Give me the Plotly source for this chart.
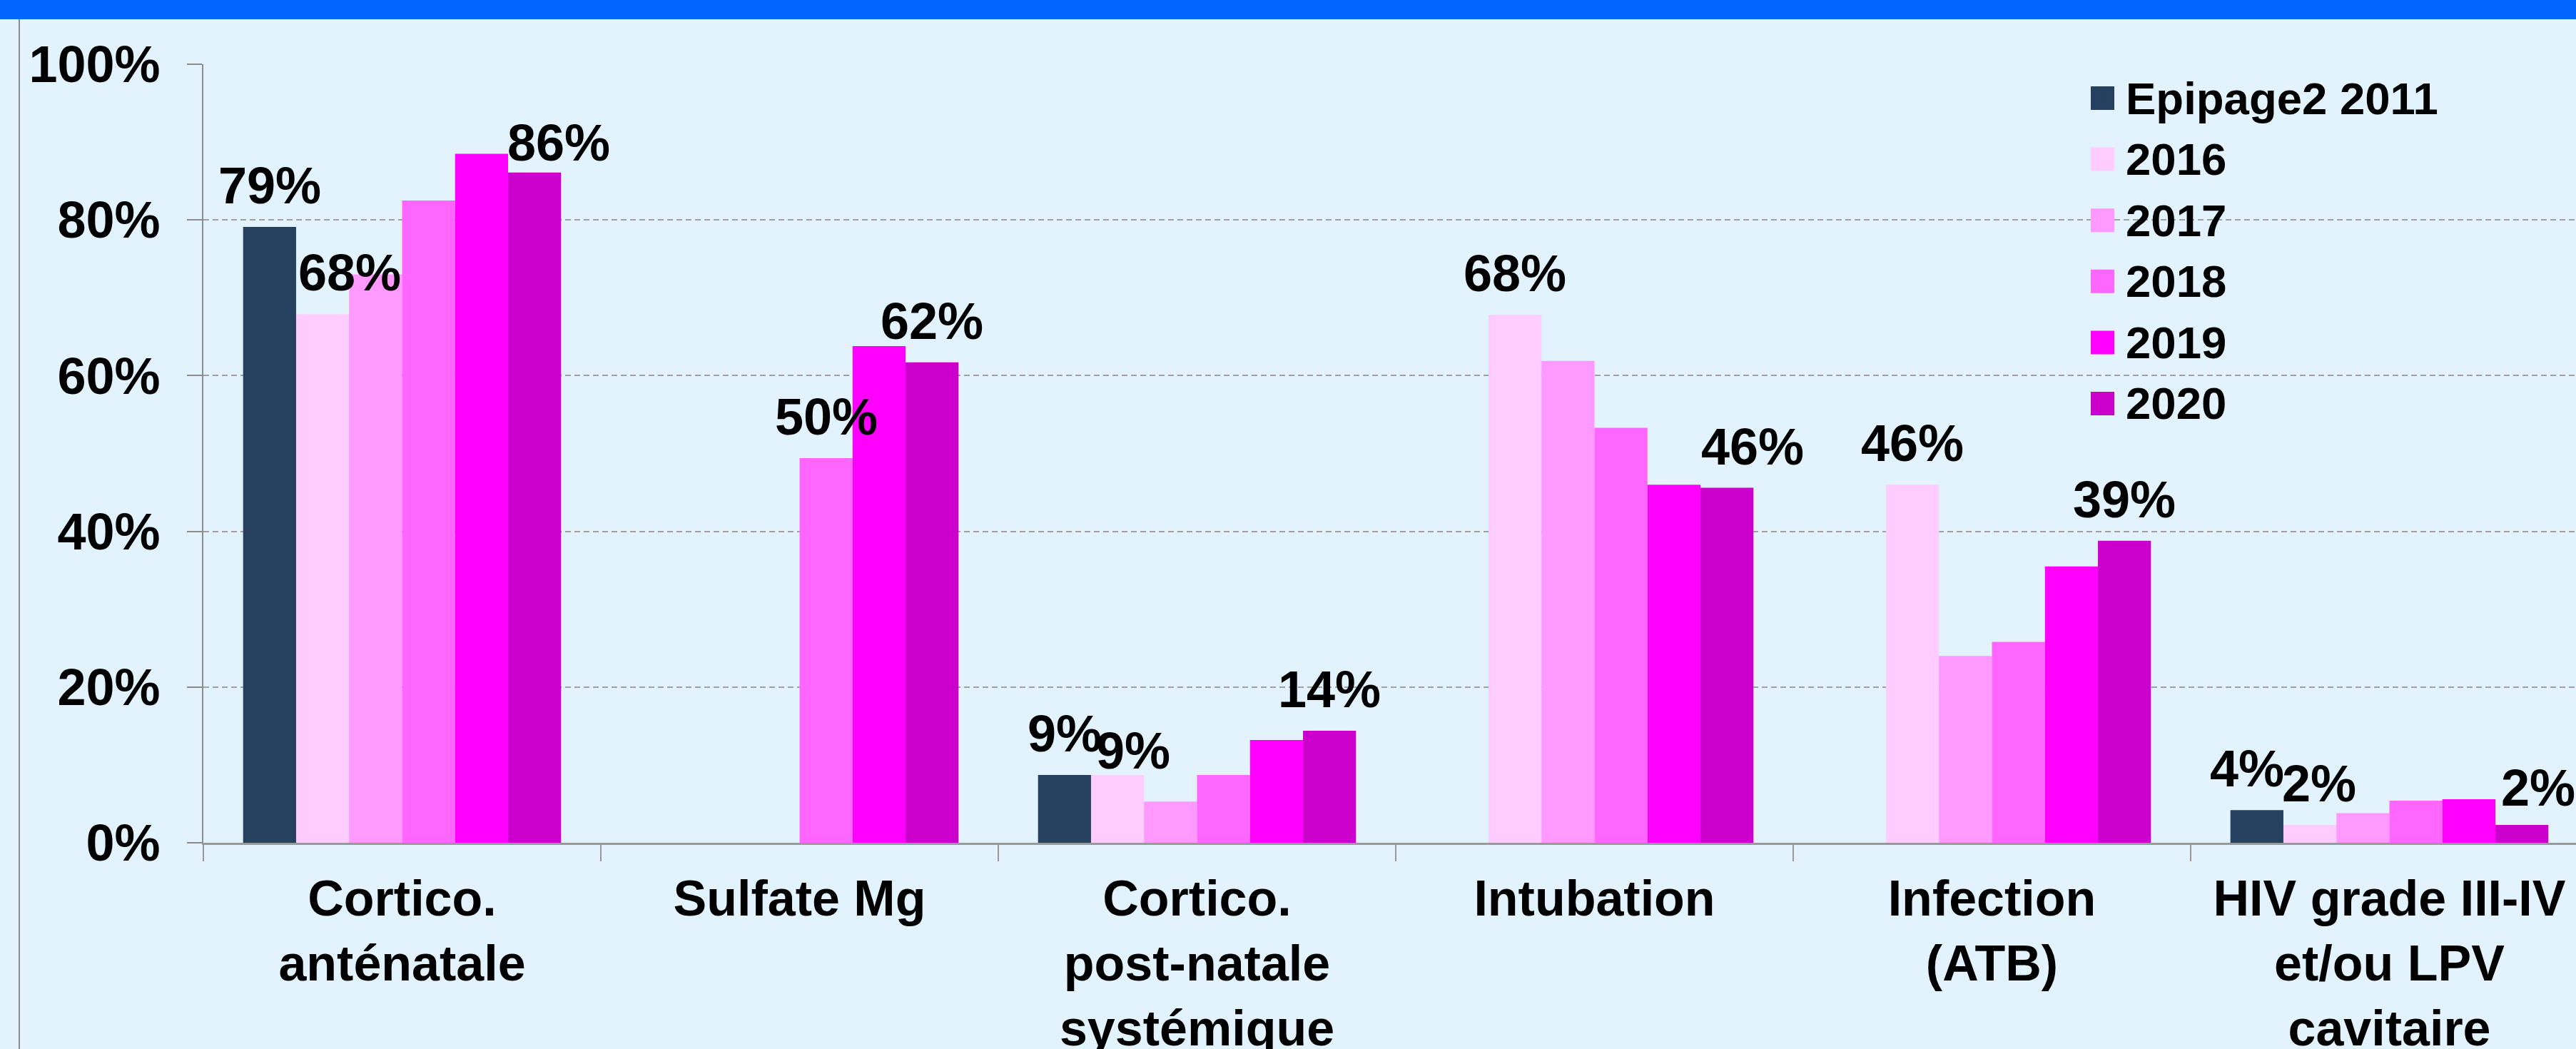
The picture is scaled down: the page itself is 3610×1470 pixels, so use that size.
import plotly.graph_objects as go

# ---------------- data ----------------
categories = [
    "Cortico.<br>anténatale",
    "Sulfate Mg",
    "Cortico.<br>post-natale<br>systémique",
    "Intubation",
    "Infection<br>(ATB)",
    "HIV grade III-IV<br>et/ou LPV<br>cavitaire",
]
series_names = ["Epipage2 2011", "2016", "2017", "2018", "2019", "2020"]

epipage_2011 = [79.1, None, 8.7, None, None, 4.2]
y2016 = [67.9, None, 8.7, 67.8, 46.0, 2.3]
y2017 = [73.0, None, 5.3, 61.9, 24.0, 3.8]
y2018 = [82.5, 49.4, 8.7, 53.3, 25.8, 5.4]
y2019 = [88.5, 63.8, 13.2, 46.0, 35.5, 5.6]
y2020 = [86.1, 61.7, 14.4, 45.6, 38.8, 2.3]

labels_epipage = ["79%", "", "9%", "", "", "4%"]
labels_2016 = ["68%", "", "9%", "68%", "46%", "2%"]
labels_2017 = ["", "", "", "", "", ""]
labels_2018 = ["", "50%", "", "", "", ""]
labels_2019 = ["", "", "", "", "", ""]
labels_2020 = ["86%", "62%", "14%", "46%", "39%", "2%"]

y_ticks = [0, 20, 40, 60, 80, 100]
y_tick_text = ["0%", "20%", "40%", "60%", "80%", "100%"]

# ---------------- style ----------------
colors = ["#26405F", "#FFCCFF", "#FF99FF", "#FF66FF", "#FF00FF", "#CC00CC"]
bg = "#E2F3FD"
FONT = "Liberation Sans, Arial, sans-serif"
W, H = 3610, 1470
M_L, M_R, M_T, M_B = 285, 0, 90, 289
plot_w = W - M_L - M_R
plot_h = H - M_T - M_B

all_values = [epipage_2011, y2016, y2017, y2018, y2019, y2020]
all_labels = [labels_epipage, labels_2016, labels_2017, labels_2018, labels_2019, labels_2020]

# pixel nudges (series, category) -> (dx, dy) for labels moved aside in the original
label_nudge = {
    (1, 0): (38, 0),
    (5, 0): (34, -16),
    (5, 3): (36, 0),
    (1, 2): (22, -24),
    (0, 5): (-14, 0),
    (1, 5): (13, 0),
    (5, 5): (23, -6),
}

fig = go.Figure()
for name, vals, col in zip(series_names, all_values, colors):
    fig.add_trace(go.Bar(name=name, x=categories, y=vals, marker=dict(color=col, line=dict(width=0))))

bargap = 0.2
n = len(series_names)
bw = (1 - bargap) / n
annotations = []
for i, labs in enumerate(all_labels):
    for k, t in enumerate(labs):
        if t:
            dx, dy = label_nudge.get((i, k), (0, 0))
            annotations.append(dict(
                x=k + (i - (n - 1) / 2) * bw, y=all_values[i][k], xref="x", yref="y",
                text=t, showarrow=False, yanchor="bottom", xanchor="center",
                yshift=16 + dy, xshift=dx,
                font=dict(family=FONT, size=72, color="black", weight="bold"),
            ))

px_per_cat = 557.0
x_hi = -0.5 + plot_w / px_per_cat

# legend geometry (pixels)
LEG_TEXT_X = 2979
LEG_ITEMWIDTH = 55
LEG_GAP = LEG_ITEMWIDTH + 10
LEG_FIRST_CY = 137.5
LEG_PITCH = 85.6
LEG_SQ = 33

def px2paper_x(px):
    return (px - M_L) / plot_w

def px2paper_y(py):
    return (M_T + plot_h - py) / plot_h

fig.update_layout(
    width=W, height=H,
    margin=dict(l=M_L, r=M_R, t=M_T, b=M_B, pad=0),
    paper_bgcolor=bg, plot_bgcolor=bg,
    barmode="group", bargap=bargap, bargroupgap=0,
    font=dict(family=FONT, size=72, color="black", weight="bold"),
    showlegend=True,
    legend=dict(
        x=px2paper_x(LEG_TEXT_X - LEG_GAP), xanchor="left",
        y=1.0027, yanchor="top",
        bgcolor="rgba(0,0,0,0)",
        font=dict(family=FONT, size=63.5, color="black", weight="bold"),
        itemwidth=LEG_ITEMWIDTH,
    ),
    xaxis=dict(
        type="category", range=[-0.5, x_hi],
        showline=True, linecolor="#999999", linewidth=3,
        ticks="outside", tickson="boundaries", ticklen=23, tickwidth=1.5, tickcolor="#999999",
        tickfont=dict(family=FONT, size=70, color="black", weight="bold"),
        showgrid=False, zeroline=False, automargin=False,
        ticklabelstandoff=15,
    ),
    yaxis=dict(
        range=[0, 100], tickmode="array", tickvals=y_ticks, ticktext=y_tick_text,
        showline=True, linecolor="#8C8C8C", linewidth=2,
        ticks="outside", ticklen=21, tickwidth=2, tickcolor="#8C8C8C",
        showgrid=True, gridcolor="#A0A0A0", gridwidth=2, griddash="8px,5px",
        zeroline=False, automargin=False,
        tickfont=dict(family=FONT, size=72, color="black", weight="bold"),
        ticklabelstandoff=23,
    ),
    annotations=annotations,
)

# larger legend swatches behind the native legend symbols
sq_cx = LEG_TEXT_X - LEG_GAP / 2
for i, col in enumerate(colors):
    cy = LEG_FIRST_CY + i * LEG_PITCH
    fig.add_shape(type="rect", xref="paper", yref="paper",
                  x0=px2paper_x(sq_cx - LEG_SQ / 2), x1=px2paper_x(sq_cx + LEG_SQ / 2),
                  y0=px2paper_y(cy + LEG_SQ / 2), y1=px2paper_y(cy - LEG_SQ / 2),
                  fillcolor=col, line=dict(width=0), layer="above")

# top blue band and left frame line (paper-referenced decoration)
band_h = 27
fig.add_shape(type="rect", xref="paper", yref="paper",
              x0=px2paper_x(0), x1=px2paper_x(W),
              y0=px2paper_y(band_h), y1=px2paper_y(0),
              fillcolor="#0066FF", line=dict(width=0), layer="above")
fig.add_shape(type="line", xref="paper", yref="paper",
              x0=px2paper_x(27), x1=px2paper_x(27),
              y0=px2paper_y(H), y1=px2paper_y(band_h),
              line=dict(color="#8C8C8C", width=2))

fig.write_html(
    "out.html",
    config={"displayModeBar": False},
    post_script="document.body.style.margin='0';document.body.style.background='%s';" % bg,
)
